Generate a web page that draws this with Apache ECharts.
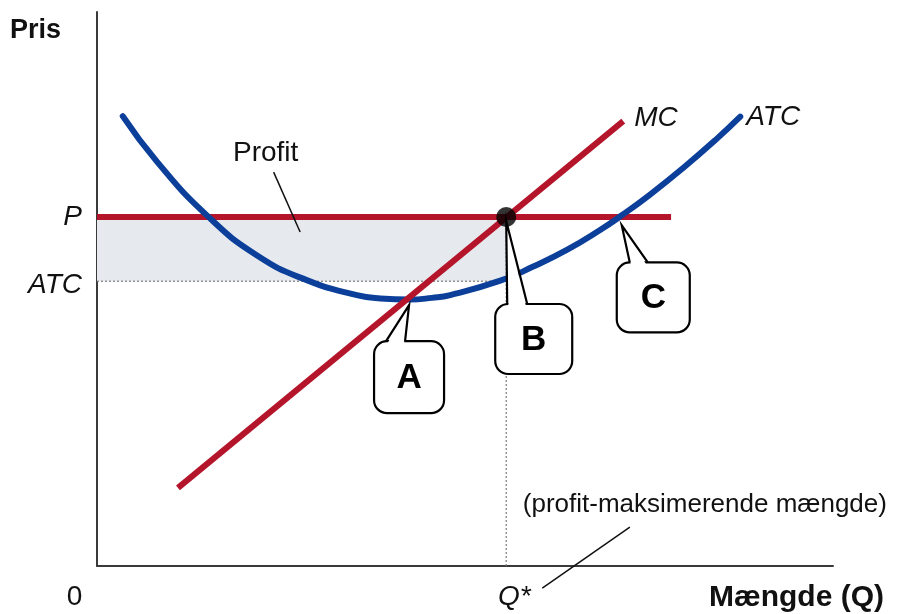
<!DOCTYPE html>
<html>
<head>
<meta charset="utf-8">
<script src="https://cdn.jsdelivr.net/npm/echarts@6/dist/echarts.min.js"></script>
<style>
html, body { margin: 0; padding: 0; background: #fff; }
#main { width: 897px; height: 614px; }
</style>
</head>
<body>
<div id="main"></div>
<script>
// values (x = quantity, y = price, both 0..100)
var qStar = 55.6;
var pPrice = 63.0;
var atcAtQ = 51.4;
var atcCurve = [[3.5, 81.2], [8.2, 72.9], [15.0, 63.2], [21.7, 56.1], [28.5, 51.6], [35.3, 48.9],
    [38.5, 48.3], [42.5, 48.1], [45.5, 48.4], [48.0, 48.9], [54.8, 51.5], [59.2, 54.0],
    [63.9, 57.1], [68.3, 60.6], [71.3, 63.3], [75.1, 67.0], [79.6, 71.8], [84.2, 77.1], [87.4, 81.1]];
var mcLine = [[11.0, 14.1], [71.5, 80.3]];
var priceLine = [[0, pPrice], [78.0, pPrice]];
var yTickNames = { P: pPrice, ATC: atcAtQ };
var xTickNames = { '0': 0, 'Q*': qStar };
// callout tips: A = MC x ATC, B = MC x P, C = ATC x P
var tipA = [42.4, 47.8];
var tipB = [qStar, pPrice];
var tipC = [71.3, 62.2];
var profitLeader = [[24.0, 71.1], [27.6, 60.3]];
var qLeader = [[72.4, 7.0], [60.5, -4.0]];

var RED = '#b5152b';
var BLUE = '#0b3f9a';
var FONT = '"Liberation Sans", Arial, sans-serif';

var dom = document.getElementById('main');
var myChart = echarts.init(dom);

option = {
    animation: false,
    backgroundColor: '#fff',
    grid: { left: 97, right: 64, top: 12, bottom: 48 },
    xAxis: {
        type: 'value',
        min: 0,
        max: 100,
        splitLine: { show: false },
        axisTick: { show: false },
        axisLine: { lineStyle: { color: '#3a3a3a', width: 2 } },
        axisLabel: {
            customValues: [xTickNames['0'], xTickNames['Q*']],
            margin: 17,
            fontSize: 28,
            fontFamily: FONT,
            color: '#111',
            formatter: function (v) {
                return v === 0 ? '{z|0}' : '{q|Q*}';
            },
            rich: {
                z: { fontSize: 28, fontFamily: FONT, color: '#111', padding: [0, 45, 0, 0] },
                q: { fontSize: 28, fontFamily: FONT, color: '#111', fontStyle: 'italic', padding: [0, 0, 0, 16] }
            }
        }
    },
    yAxis: {
        type: 'value',
        min: 0,
        max: 100,
        splitLine: { show: false },
        axisTick: { show: false },
        axisLine: { lineStyle: { color: '#3a3a3a', width: 2 } },
        axisLabel: {
            customValues: [yTickNames.ATC, yTickNames.P],
            margin: 15,
            fontSize: 28,
            fontFamily: FONT,
            color: '#111',
            formatter: function (v) {
                return v === pPrice ? '{p|P}' : '{a|ATC}';
            },
            rich: {
                p: { fontSize: 28, fontFamily: FONT, color: '#111', fontStyle: 'italic' },
                a: { fontSize: 28, fontFamily: FONT, color: '#111', fontStyle: 'italic', padding: [8, 0, 0, 0] }
            }
        }
    },
    series: [
        {
            name: 'ATC-niveau',
            type: 'line',
            data: [[0, atcAtQ], [qStar, atcAtQ]],
            symbol: 'none',
            lineStyle: { color: '#7a7a7a', width: 1.2, type: [2, 2] },
            markArea: {
                silent: true,
                itemStyle: { color: '#e6e9ee' },
                data: [[{ coord: [0, pPrice] }, { coord: [qStar, atcAtQ] }]]
            },
            z: 1
        },
        {
            name: 'Q*',
            type: 'line',
            data: [[qStar, 0], [qStar, pPrice]],
            symbol: 'none',
            lineStyle: { color: '#7a7a7a', width: 1.2, type: [2, 2] },
            z: 1
        },
        {
            name: 'P',
            type: 'line',
            data: priceLine,
            symbol: 'none',
            lineStyle: { color: RED, width: 6, cap: 'butt' }
        },
        {
            name: 'ATC',
            type: 'line',
            data: atcCurve,
            smooth: 0.5,
            symbol: 'none',
            lineStyle: { color: BLUE, width: 6, cap: 'round' }
        },
        {
            name: 'MC',
            type: 'line',
            data: mcLine,
            symbol: 'none',
            lineStyle: { color: RED, width: 6, cap: 'butt' }
        },
        {
            name: 'B',
            type: 'scatter',
            data: [tipB],
            symbolSize: 20,
            itemStyle: { color: '#000' },
            z: 5
        }
    ]
};

if (option && typeof option === "object") {
    myChart.setOption(option, true);
}

// annotations placed from data points
function px(p) {
    return myChart.convertToPixel({ gridIndex: 0 }, p);
}

function callout(tip, letter, dx, dy, w, h, b1, b2) {
    var t = px(tip);
    var x0 = t[0] + dx, y0 = t[1] + dy;
    var tx = t[0], ty = t[1] + 4;
    return [
        { type: 'rect', z: 100, shape: { x: x0, y: y0, width: w, height: h, r: 13 },
          style: { fill: '#fff', stroke: '#000', lineWidth: 2.2 } },
        { type: 'polygon', z: 101,
          shape: { points: [[tx + b1 + 1.2, y0 + 2.5], [tx, ty], [tx + b2 - 1.2, y0 + 2.5]] },
          style: { fill: '#fff', stroke: null } },
        { type: 'polyline', z: 102,
          shape: { points: [[tx + b1, y0], [tx, ty], [tx + b2, y0]] },
          style: { fill: null, stroke: '#000', lineWidth: 2.2 } },
        { type: 'text', z: 103, x: x0 + w / 2, y: y0 + h / 2 + 1,
          style: { text: letter, fill: '#000', font: 'bold 35px ' + FONT, align: 'center', verticalAlign: 'middle' } }
    ];
}

function leader(pts) {
    var a = px(pts[0]), b = px(pts[1]);
    return { type: 'line', z: 50, shape: { x1: a[0], y1: a[1], x2: b[0], y2: b[1] },
             style: { stroke: '#111', lineWidth: 1.5 } };
}

function label(text, x, y, font, align) {
    return { type: 'text', z: 60, x: x, y: y,
             style: { text: text, fill: '#111', font: font, align: align || 'left', verticalAlign: 'middle' } };
}

var mcEnd = px(mcLine[1]);
var atcEnd = px(atcCurve[atcCurve.length - 1]);
var profitAt = px(profitLeader[0]);
var qAt = px(qLeader[0]);

var graphics = [].concat(
    callout(tipA, 'A', -35, 40, 70, 72, -23, -4),
    callout(tipB, 'B', -11, 87, 77, 70, 1, 21),
    callout(tipC, 'C', -5, 41, 73, 70, 8, 26),
    [
        leader(profitLeader),
        leader(qLeader),
        label('Profit', profitAt[0] - 8, profitAt[1] - 19, '28px ' + FONT, 'center'),
        label('(profit-maksimerende mængde)', qAt[0] + 75, qAt[1] - 22, '26px ' + FONT, 'center'),
        label('MC', mcEnd[0] + 11, mcEnd[1] - 3, 'italic 28px ' + FONT),
        label('ATC', atcEnd[0] + 6, atcEnd[1], 'italic 28px ' + FONT),
        label('Pris', 10, 31, 'bold 27px ' + FONT),
        label('Mængde (Q)', 709, 598, 'bold 30px ' + FONT)
    ]
);

myChart.setOption({ graphic: graphics });
</script>
</body>
</html>
